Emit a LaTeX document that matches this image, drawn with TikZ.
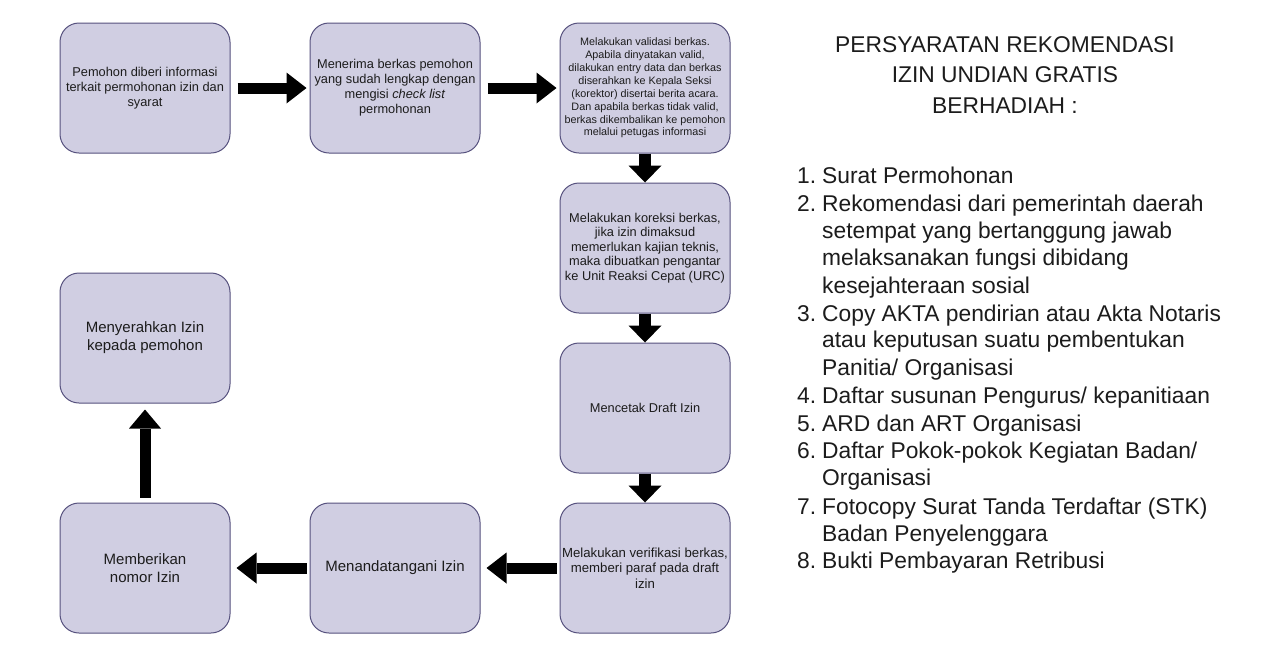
\documentclass[tikz,border=0pt]{standalone}
\usepackage{fontspec}
\setmainfont{Liberation Sans}
\usetikzlibrary{arrows.meta}
\definecolor{boxfill}{HTML}{D0CEE2}
\definecolor{boxline}{HTML}{56517E}
\definecolor{txt}{HTML}{1C1C1C}
\tikzset{
  box/.style={draw=boxline, fill=boxfill, line width=1pt, rounded corners=19pt,
    minimum width=170pt, minimum height=130pt, inner sep=0pt, align=center,
    text=txt, font=\fontsize{12.8}{15}\selectfont},
  smallbox/.style={box, font=\fontsize{10.8}{12.9}\selectfont},
  bigbox/.style={box, font=\fontsize{15}{18}\selectfont},
  harrow/.style={draw=black, line width=11pt, -{Triangle[width=31pt,length=20pt,line width=0pt]}},
  varrow/.style={draw=black, line width=12pt, -{Triangle[width=33pt,length=17pt,line width=0pt]}},
  uarrow/.style={draw=black, line width=11pt, -{Triangle[width=32pt,length=19pt,line width=0pt]}},
  title/.style={anchor=base, font=\fontsize{22.8}{27}\selectfont, inner sep=0pt, text=txt},
  item/.style={anchor=base west, font=\fontsize{22.8}{27}\selectfont, inner sep=0pt, text=txt}
}
\begin{document}
\begin{tikzpicture}[x=1pt,y=-1pt]
\useasboundingbox (0,0) rectangle (1261,657);
\fill[white] (0,0) rectangle (1261,657);

\node[box] (b1) at (145,88) {Pemohon diberi informasi\\terkait permohonan izin dan\\syarat};
\node[box] (b2) at (395,88) {Menerima berkas pemohon\\yang sudah lengkap dengan\\mengisi \textit{check list}\\permohonan};
\node[smallbox] (b3) at (645,88) {Melakukan validasi berkas.\\Apabila dinyatakan valid,\\dilakukan entry data dan berkas\\diserahkan ke Kepala Seksi\\(korektor) disertai berita acara.\\Dan apabila berkas tidak valid,\\berkas dikembalikan ke pemohon\\melalui petugas informasi};
\node[box, font=\fontsize{12.8}{14.5}\selectfont] (b4) at (645,248) {Melakukan koreksi berkas,\\jika izin dimaksud\\memerlukan kajian teknis,\\maka dibuatkan pengantar\\ke Unit Reaksi Cepat (URC)};
\node[box] (b5) at (645,408) {Mencetak Draft Izin};
\node[box, font=\fontsize{13.2}{15.5}\selectfont] (b6) at (645,568) {Melakukan verifikasi berkas,\\memberi paraf pada draft\\izin};
\node[bigbox] (b7) at (395,568) {Menandatangani Izin};
\node[bigbox] (b8) at (145,568) {Memberikan\\nomor Izin};
\node[bigbox] (b9) at (145,338) {Menyerahkan Izin\\kepada pemohon};

\draw[harrow] ([xshift=7pt]b1.east) -- ([xshift=-3pt]b2.west);
\draw[harrow] ([xshift=7pt]b2.east) -- ([xshift=-3pt]b3.west);
\draw[varrow] (b3.south) -- (b4.north);
\draw[varrow] (b4.south) -- (b5.north);
\draw[varrow] (b5.south) -- (b6.north);
\draw[harrow] ([xshift=-3pt]b6.west) -- ([xshift=6pt]b7.east);
\draw[harrow] ([xshift=-3pt]b7.west) -- ([xshift=6pt]b8.east);
\draw[uarrow] ([yshift=5pt]b8.north) -- ([yshift=-6pt]b9.south);

\node[title] (t1) at (1005,52) {PERSYARATAN REKOMENDASI};
\node[title] (t2) at (1005,82) {IZIN UNDIAN GRATIS};
\node[title] (t3) at (1005,113) {BERHADIAH :};

\node[item] (n1) at (797,183) {1.};
\node[item] (i1) at (822,183) {Surat Permohonan};
\node[item] (n2) at (797,211) {2.};
\node[item] (i2a) at (822,211) {Rekomendasi dari pemerintah daerah};
\node[item] (i2b) at (822,238) {setempat yang bertanggung jawab};
\node[item] (i2c) at (822,265) {melaksanakan fungsi dibidang};
\node[item] (i2d) at (822,293) {kesejahteraan sosial};
\node[item] (n3) at (797,321) {3.};
\node[item] (i3a) at (822,321) {Copy AKTA pendirian atau Akta Notaris};
\node[item] (i3b) at (822,347) {atau keputusan suatu pembentukan};
\node[item] (i3c) at (822,375) {Panitia/ Organisasi};
\node[item] (n4) at (797,403) {4.};
\node[item] (i4) at (822,403) {Daftar susunan Pengurus/ kepanitiaan};
\node[item] (n5) at (797,431) {5.};
\node[item] (i5) at (822,431) {ARD dan ART Organisasi};
\node[item] (n6) at (797,458) {6.};
\node[item] (i6a) at (822,458) {Daftar Pokok-pokok Kegiatan Badan/};
\node[item] (i6b) at (822,485) {Organisasi};
\node[item] (n7) at (797,514) {7.};
\node[item] (i7a) at (822,514) {Fotocopy Surat Tanda Terdaftar (STK)};
\node[item] (i7b) at (822,541) {Badan Penyelenggara};
\node[item] (n8) at (797,568) {8.};
\node[item] (i8) at (822,568) {Bukti Pembayaran Retribusi};
\end{tikzpicture}
\end{document}
